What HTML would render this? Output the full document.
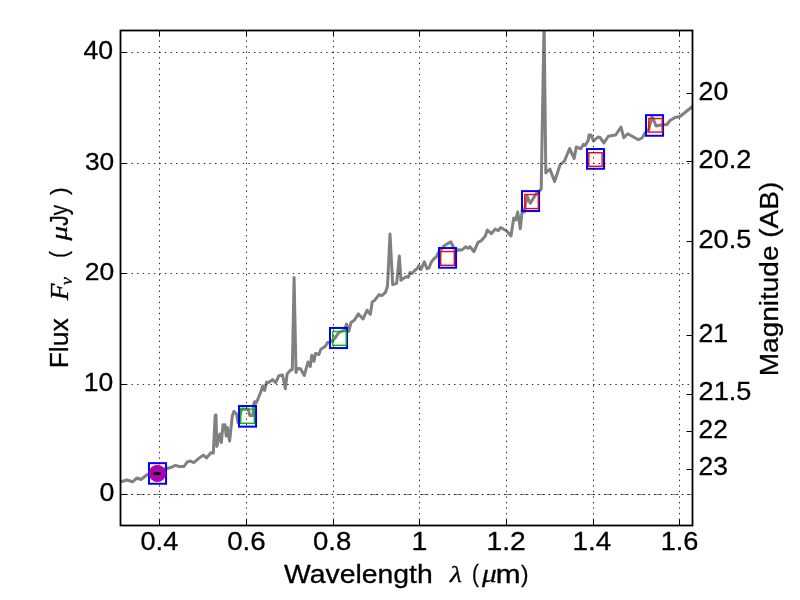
<!DOCTYPE html><html><head><meta charset="utf-8"><style>html,body{margin:0;padding:0;background:#fff;width:800px;height:600px;overflow:hidden}svg{display:block;will-change:transform}text{font-family:"Liberation Sans",sans-serif;fill:#000;stroke:#000;stroke-width:0.3px}</style></head><body><svg width="800" height="600" viewBox="0 0 800 600"><defs><clipPath id="ax"><rect x="120.50" y="30.50" width="572.00" height="495.00"/></clipPath></defs><rect width="800" height="600" fill="#fff"/><line x1="120.10" y1="494.50" x2="692.50" y2="494.50" stroke="#8c8c8c" stroke-width="1.0" stroke-dasharray="8.0 3.1 1.4 4.18"/><g clip-path="url(#ax)"><polyline points="118,481.5 122,481.5 127,480 132.5,481.8 137,478 141,479.5 146,475.5 148.5,474 157,471 166.9,468.5 171,467.5 175.5,465.4 179.2,466.5 184,466.5 187.1,462 190.6,461 193.7,462.7 198.5,458.6 203.3,455.1 206.4,457.9 210.9,452.7 213.3,453.1 215.2,415.2 216,415 216.8,446.5 219.8,434 221.3,442.5 223,424.8 225,424.8 226.2,436 227.4,427.5 229.6,441 232.3,416 233.9,411.4 236.7,414.2 238,422.4 241.5,409 248.3,409.3 249.8,415.5 253,415.5 253.6,405 254.6,401.7 255.8,403.3 257.9,399.2 260.8,391.7 262.9,385.8 264.6,390.4 266.7,382.1 268.75,382.5 272.5,379.6 275.8,382.5 278.75,375.8 282.5,375 285.4,388.75 287.1,373.75 290.8,370 292.3,369.5 294.1,277.5 296,372.5 297.5,368.4 300.5,368.8 304.3,375.5 308,362 310.3,366.5 311.8,355.3 314,361.3 315.5,353.4 318.9,354.5 320.8,349.3 325.3,346.3 327.5,342.5 329.7,342.7 335,338.2 338.7,332.7 344.6,330 346.5,324 348.8,331.3 351,322.6 354.3,320.3 358.4,313.9 363,319 367.1,310.2 370.3,314.4 372.2,302 374.4,300.6 379,294.6 381.8,295.6 385.5,292.3 387.5,286 390,234 392.7,284.7 396.7,283.3 399.3,256 401,280.3 404,278 406.7,276.7 408.3,277.3 410,272.5 412,273.5 414.7,270.5 417.3,268.5 419,265.5 421,269.5 424.3,261.8 427,268.7 429,268 431.3,262 434,258.7 436.3,257 438.5,252.5 444.5,245.5 450.7,241.8 455,250 457.3,250.5 458.3,249.7 462,250 465.7,246.7 468,248.3 470,246.7 474,251.7 478,242.3 481.3,240.7 485.3,236 487.3,230 491.3,233.7 495.3,229 498.3,230.7 500.7,227.5 505,230 506.3,230.7 511,236 513.7,218 515.7,220 517.7,212 520.3,228.7 522.3,209.3 524.3,212 527,196 530.3,203.3 535.8,194.2 541.2,189.2 544.1,20 545.8,172.9 550,169.2 554.6,181.5 560,165 564.6,160.8 569.6,148.5 574.2,158.5 576.25,147 580.8,148.75 583.3,144.4 585.4,145.4 588.3,140 589,135 591,135 593.5,141 598,137 600,137.5 604,143 608.3,136.3 615.7,135 621,127 623.7,137.7 627.7,133.7 638.3,139.7 642,138 645,133 648.5,130 652,117 653.5,119.5 656,126 661,125 667,124.5 670,120.5 675,117.5 680,116.5 690.5,108 696,104" fill="none" stroke="#808080" stroke-width="3" stroke-linejoin="round" stroke-linecap="round"/></g><rect x="149.00" y="463.15" width="17.05" height="20.60" fill="none" stroke="#0000ff" stroke-width="2"/><rect x="239.00" y="406.05" width="17.05" height="20.60" fill="none" stroke="#0000ff" stroke-width="2"/><rect x="330.00" y="327.95" width="17.05" height="20.10" fill="none" stroke="#0000ff" stroke-width="2"/><rect x="439.00" y="248.05" width="17.05" height="19.70" fill="none" stroke="#0000ff" stroke-width="2"/><rect x="522.00" y="191.15" width="17.05" height="19.90" fill="none" stroke="#0000ff" stroke-width="2"/><rect x="587.00" y="149.05" width="17.05" height="19.70" fill="none" stroke="#0000ff" stroke-width="2"/><rect x="646.00" y="115.15" width="17.05" height="20.60" fill="none" stroke="#0000ff" stroke-width="2"/><rect x="240.70" y="409.20" width="13.60" height="14.10" fill="none" stroke="#00bf00" stroke-width="1.4"/><rect x="332.80" y="331.50" width="13.40" height="13.80" fill="none" stroke="#00bf00" stroke-width="1.4"/><rect x="440.70" y="251.55" width="13.60" height="13.75" fill="none" stroke="#ff0000" stroke-width="1.4"/><rect x="524.80" y="194.50" width="13.50" height="14.10" fill="none" stroke="#ff0000" stroke-width="1.4"/><rect x="588.80" y="152.70" width="13.30" height="13.60" fill="none" stroke="#ff0000" stroke-width="1.4"/><rect x="648.80" y="118.50" width="13.40" height="13.60" fill="none" stroke="#ff0000" stroke-width="1.4"/><g stroke="#000" stroke-width="0.85" stroke-dasharray="1.39 4.17" fill="none"><line x1="159.50" y1="525.50" x2="159.50" y2="30.50"/><line x1="246.50" y1="525.50" x2="246.50" y2="30.50"/><line x1="333.50" y1="525.50" x2="333.50" y2="30.50"/><line x1="419.50" y1="525.50" x2="419.50" y2="30.50"/><line x1="506.50" y1="525.50" x2="506.50" y2="30.50"/><line x1="593.50" y1="525.50" x2="593.50" y2="30.50"/><line x1="679.50" y1="525.50" x2="679.50" y2="30.50"/><line x1="120.50" y1="494.50" x2="692.50" y2="494.50"/><line x1="120.50" y1="384.50" x2="692.50" y2="384.50"/><line x1="120.50" y1="273.50" x2="692.50" y2="273.50"/><line x1="120.50" y1="163.50" x2="692.50" y2="163.50"/><line x1="120.50" y1="52.50" x2="692.50" y2="52.50"/></g><circle cx="157.4" cy="473.35" r="8.55" fill="#b000b0"/><rect x="153.1" y="472.1" width="7.9" height="2.9" fill="#000"/><rect x="120.50" y="30.50" width="572.00" height="495.00" fill="none" stroke="#000" stroke-width="1.8"/><g stroke="#000" stroke-width="1.0"><line x1="159.50" y1="525.50" x2="159.50" y2="519.50"/><line x1="159.50" y1="30.50" x2="159.50" y2="36.50"/><line x1="246.50" y1="525.50" x2="246.50" y2="519.50"/><line x1="246.50" y1="30.50" x2="246.50" y2="36.50"/><line x1="333.50" y1="525.50" x2="333.50" y2="519.50"/><line x1="333.50" y1="30.50" x2="333.50" y2="36.50"/><line x1="419.50" y1="525.50" x2="419.50" y2="519.50"/><line x1="419.50" y1="30.50" x2="419.50" y2="36.50"/><line x1="506.50" y1="525.50" x2="506.50" y2="519.50"/><line x1="506.50" y1="30.50" x2="506.50" y2="36.50"/><line x1="593.50" y1="525.50" x2="593.50" y2="519.50"/><line x1="593.50" y1="30.50" x2="593.50" y2="36.50"/><line x1="679.50" y1="525.50" x2="679.50" y2="519.50"/><line x1="679.50" y1="30.50" x2="679.50" y2="36.50"/><line x1="120.50" y1="494.50" x2="126.50" y2="494.50"/><line x1="120.50" y1="384.50" x2="126.50" y2="384.50"/><line x1="120.50" y1="273.50" x2="126.50" y2="273.50"/><line x1="120.50" y1="163.50" x2="126.50" y2="163.50"/><line x1="120.50" y1="52.50" x2="126.50" y2="52.50"/><line x1="692.50" y1="93.50" x2="686.50" y2="93.50"/><line x1="692.50" y1="161.50" x2="686.50" y2="161.50"/><line x1="692.50" y1="241.50" x2="686.50" y2="241.50"/><line x1="692.50" y1="335.50" x2="686.50" y2="335.50"/><line x1="692.50" y1="394.50" x2="686.50" y2="394.50"/><line x1="692.50" y1="431.50" x2="686.50" y2="431.50"/><line x1="692.50" y1="469.50" x2="686.50" y2="469.50"/></g><g transform="translate(83.48,58.61) scale(1.0463,0.9838)"><text style="font-family:'Liberation Sans',sans-serif" font-size="25.50">40</text></g>
<g transform="translate(84.97,169.51) scale(1.0336,0.9730)"><text style="font-family:'Liberation Sans',sans-serif" font-size="25.50">30</text></g>
<g transform="translate(84.71,279.51) scale(1.0377,0.9730)"><text style="font-family:'Liberation Sans',sans-serif" font-size="25.50">20</text></g>
<g transform="translate(83.68,390.51) scale(1.0388,0.9784)"><text style="font-family:'Liberation Sans',sans-serif" font-size="25.50">10</text></g>
<g transform="translate(99.46,500.51) scale(1.0520,0.9784)"><text style="font-family:'Liberation Sans',sans-serif" font-size="25.50">0</text></g>
<g transform="translate(140.50,549.61) scale(1.0647,0.9838)"><text style="font-family:'Liberation Sans',sans-serif" font-size="25.50">0.4</text></g>
<g transform="translate(227.19,549.61) scale(1.0844,0.9838)"><text style="font-family:'Liberation Sans',sans-serif" font-size="25.50">0.6</text></g>
<g transform="translate(312.99,549.61) scale(1.0815,0.9838)"><text style="font-family:'Liberation Sans',sans-serif" font-size="25.50">0.8</text></g>
<g transform="translate(411.44,549.85) scale(1.1200,1.0111)"><text style="font-family:'Liberation Sans',sans-serif" font-size="25.50">1</text></g>
<g transform="translate(486.46,549.85) scale(1.1077,0.9973)"><text style="font-family:'Liberation Sans',sans-serif" font-size="25.50">1.2</text></g>
<g transform="translate(572.59,549.85) scale(1.0909,1.0111)"><text style="font-family:'Liberation Sans',sans-serif" font-size="25.50">1.4</text></g>
<g transform="translate(660.64,549.61) scale(1.0656,0.9838)"><text style="font-family:'Liberation Sans',sans-serif" font-size="25.50">1.6</text></g>
<g transform="translate(698.55,99.60) scale(1.0491,0.9919)"><text style="font-family:'Liberation Sans',sans-serif" font-size="25.50">20</text></g>
<g transform="translate(698.53,167.60) scale(1.0663,0.9919)"><text style="font-family:'Liberation Sans',sans-serif" font-size="25.50">20.2</text></g>
<g transform="translate(698.54,247.60) scale(1.0639,0.9919)"><text style="font-family:'Liberation Sans',sans-serif" font-size="25.50">20.5</text></g>
<g transform="translate(698.56,341.85) scale(1.0400,1.0055)"><text style="font-family:'Liberation Sans',sans-serif" font-size="25.50">21</text></g>
<g transform="translate(698.54,400.41) scale(1.0639,0.9865)"><text style="font-family:'Liberation Sans',sans-serif" font-size="25.50">21.5</text></g>
<g transform="translate(698.57,437.65) scale(1.0286,1.0000)"><text style="font-family:'Liberation Sans',sans-serif" font-size="25.50">22</text></g>
<g transform="translate(698.57,475.41) scale(1.0340,0.9865)"><text style="font-family:'Liberation Sans',sans-serif" font-size="25.50">23</text></g>
<g transform="translate(283.95,582.90) scale(1.1134,1)"><text style="font-family:'Liberation Sans',sans-serif" font-size="25.50">Wavelength</text></g>
<g transform="translate(449.83,582.47) scale(1.1022,0.9081)"><text style="font-family:'Liberation Serif',serif;font-style:italic" font-size="25.50">λ</text></g>
<g transform="translate(472.00,581.60) scale(0.8000,0.9278)"><text style="font-family:'Liberation Sans',sans-serif" font-size="25.50">(</text></g>
<g transform="translate(481.89,582.16) scale(1.1510,0.9803)"><text style="font-family:'Liberation Serif',serif;font-style:italic" font-size="25.50">μ</text></g>
<g transform="translate(495.65,582.80) scale(1.1671,1)"><text style="font-family:'Liberation Sans',sans-serif" font-size="25.50">m</text></g>
<g transform="translate(521.00,581.60) scale(0.8857,0.9278)"><text style="font-family:'Liberation Sans',sans-serif" font-size="25.50">)</text></g>
<g transform="translate(68.00,368.33) rotate(-90) scale(1.0380,1)"><text style="font-family:'Liberation Sans',sans-serif" font-size="25.50">Flux</text></g>
<g transform="translate(67.75,300.13) rotate(-90) scale(1.0708,0.9855)"><text style="font-family:'Liberation Serif',serif;font-style:italic" font-size="25.50">F</text></g>
<g transform="translate(71.76,285.00) rotate(-90) scale(1.0000,0.9412)"><text style="font-family:'Liberation Serif',serif;font-style:italic" font-size="17.80">ν</text></g>
<g transform="translate(66.78,257.68) rotate(-90) scale(0.7857,0.9485)"><text style="font-family:'Liberation Sans',sans-serif" font-size="25.50">(</text></g>
<g transform="translate(67.48,240.41) rotate(-90) scale(1.1429,0.8901)"><text style="font-family:'Liberation Serif',serif;font-style:italic" font-size="25.50">μ</text></g>
<g transform="translate(68.00,225.70) rotate(-90) scale(0.8119,1)"><text style="font-family:'Liberation Sans',sans-serif" font-size="25.50">Jy</text></g>
<g transform="translate(66.61,195.00) rotate(-90) scale(0.8929,0.9443)"><text style="font-family:'Liberation Sans',sans-serif" font-size="25.50">)</text></g>
<g transform="translate(778.00,376.20) rotate(-90) scale(1.0976,1)"><text style="font-family:'Liberation Sans',sans-serif" font-size="25.50">Magnitude (AB)</text></g></svg></body></html>
